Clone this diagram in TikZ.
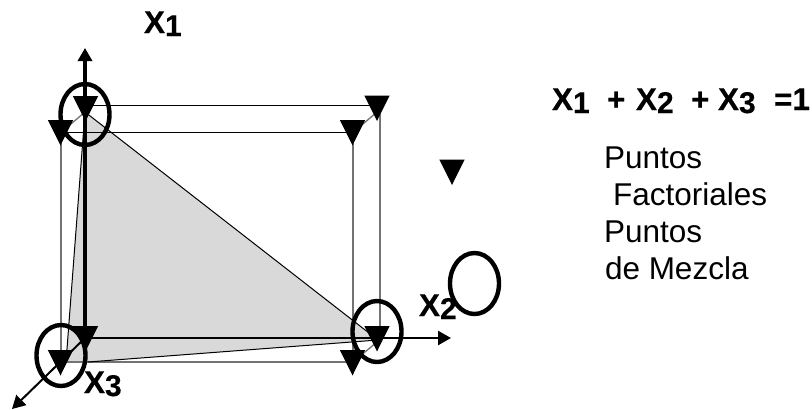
\documentclass[tikz,border=0pt]{standalone}
\usepackage{fontspec}
\setmainfont{Liberation Sans}
\newfontface\heavyface[FakeBold=0.35]{Liberation Sans Bold}
\usetikzlibrary{arrows.meta,shapes.geometric}
\tikzset{
  txt/.style={anchor=base west,inner sep=0pt,outer sep=0pt,font=\fontsize{31.5}{33}\selectfont},
  lbl/.style={txt,font=\fontsize{31.5}{33}\heavyface},
  ring/.style={draw=black,line width=4.4pt,ellipse,minimum width=49pt,minimum height=61pt,inner sep=0pt},
  thin/.style={line width=1pt,black},
  back/.style={line width=1.3pt,black!55},
  axis/.style={black,-{Triangle[length=13pt,width=14pt]}},
}
\newcommand{\Xs}[1]{X\raisebox{-3pt}{\fontsize{30}{33}\heavyface #1}}
\newcommand{\tri}[2]{\fill[black] (#1-12.7,#2) -- (#1+12.7,#2) -- (#1,#2+25.5) -- cycle;}
\begin{document}
\begin{tikzpicture}[x=1pt,y=-1pt]
\useasboundingbox (0,0) rectangle (812,410);
% corners
\coordinate (bTL) at (85,105);
\coordinate (bTR) at (380,105);
\coordinate (bBR) at (380,338);
\coordinate (fTL) at (61,132.5);
\coordinate (fTR) at (353,132.5);
\coordinate (fBR) at (353,362);
\coordinate (fBL) at (61,362);
\coordinate (apex) at (85,112);
\coordinate (right) at (378,340);
\coordinate (bl) at (88,362);
\coordinate (lf) at (66,362);
\coordinate (origin) at (85,338);
\coordinate (tipA) at (85,48);
\coordinate (tipB) at (451,338);
\coordinate (tipC) at (12,409);
% shaded face
\fill[black!15] (apex) -- (right) -- (bl) -- (lf) -- cycle;
% box
\draw[thin] (bTL) -- (bTR);
\draw[back] (bTR) -- (bBR);
\draw[thin] (fTL) -- (fTR);
\draw[back] (fTR) -- (fBR);
\draw[back] (fBL) -- (fBR);
\draw[back] (fTL) -- (fBL);
\draw[back] (85,112) -- (fTL);
\draw[back] (377,112) -- (fTR);
\draw[back] (377,342) -- (fBR);
% triangle outline
\draw[thin] (apex) -- (right) -- (bl);
\draw[thin] (apex) -- (lf);
\draw[back] (lf) -- (bl);
% axes
\draw[axis,line width=2.5pt] (origin) -- (tipB);
\draw[axis,line width=2pt] (origin) -- (tipC);
\draw[axis,line width=4pt] (85,352) -- (tipA);
% markers
\tri{85.5}{96}
\tri{60.5}{120}
\tri{377}{95.5}
\tri{352.5}{120}
\tri{452}{159.5}
\tri{377}{326}
\tri{352.5}{350}
\tri{85.5}{326}
\tri{60.5}{350}
% rings
\node[ring] (ringA) at (85,114.5) {};
\node[ring] (ringC) at (61,355.5) {};
\node[ring] (ringB) at (377,331.5) {};
\node[ring] (ringL) at (474.5,283.5) {};
% axis labels
\node[lbl] (lblA) at (144,33) {\Xs{1}};
\node[lbl] (lblB) at (419,316) {\Xs{2}};
\node[lbl] (lblC) at (84,393) {\Xs{3}};
% legend
\node[lbl] (eqn) at (552,110) {\makebox[55pt][l]{\Xs{1}}\makebox[29pt][l]{+}\makebox[55pt][l]{\Xs{2}}\makebox[27pt][l]{+}\makebox[56pt][l]{\Xs{3}}=1};
\node[txt] (t1) at (604,168) {Puntos};
\node[txt] (t2) at (613,205) {Factoriales};
\node[txt] (t3) at (604,242) {Puntos};
\node[txt] (t4) at (605,279) {de Mezcla};
\end{tikzpicture}
\end{document}
